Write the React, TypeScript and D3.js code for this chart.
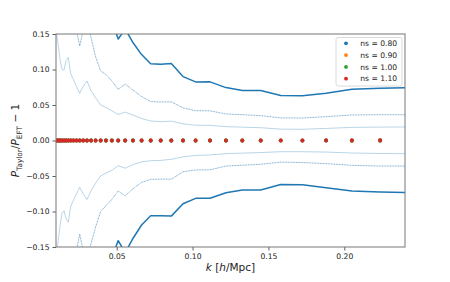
import React, { useEffect, useRef } from 'react';
import * as d3 from 'd3';

// k grid [h/Mpc]
const kGrid = [
  0.0099, 0.0108, 0.0118, 0.0128, 0.014, 0.0153, 0.0166, 0.0181, 0.0197, 0.0215,
  0.0235, 0.0256, 0.0279, 0.0304, 0.0331, 0.0361, 0.0394, 0.0429, 0.0468, 0.051,
  0.0556, 0.0607, 0.0664, 0.0724, 0.079, 0.086, 0.0937, 0.102, 0.1115, 0.122,
  0.1328, 0.1449, 0.1581, 0.1724, 0.188, 0.205, 0.2236, 0.2437,
];

// error bands (upper)
const upperInner = [
  0.16, 0.145, 0.128, 0.112, 0.1, 0.099, 0.112, 0.117, 0.094, 0.086,
  0.076, 0.0665, 0.076, 0.0838, 0.07, 0.06, 0.05, 0.0465, 0.042, 0.0365,
  0.04, 0.036, 0.031, 0.0275, 0.0265, 0.0272, 0.0235, 0.0215, 0.0213, 0.0195,
  0.0188, 0.018, 0.016, 0.0158, 0.017, 0.0185, 0.0189, 0.019,
];
const upperMid = [
  0.3, 0.29, 0.26, 0.23, 0.2, 0.198, 0.22, 0.23, 0.19, 0.172,
  0.155, 0.133, 0.155, 0.167, 0.145, 0.118, 0.098, 0.093, 0.084, 0.072,
  0.0796, 0.071, 0.062, 0.0548, 0.0542, 0.0545, 0.046, 0.042, 0.0418, 0.0373,
  0.0364, 0.035, 0.0318, 0.0317, 0.0336, 0.036, 0.0363, 0.0363,
];
const upperOuter = [
  0.6, 0.58, 0.52, 0.46, 0.4, 0.396, 0.44, 0.46, 0.38, 0.34,
  0.3, 0.266, 0.3, 0.335, 0.29, 0.24, 0.196, 0.186, 0.168, 0.143,
  0.157, 0.138, 0.121, 0.108, 0.1075, 0.1085, 0.09, 0.0825, 0.0826, 0.0745,
  0.0705, 0.0705, 0.0633, 0.063, 0.0665, 0.0722, 0.0735, 0.0745,
];

// error bands (lower)
const lowerInner = [
  -0.17, -0.152, -0.135, -0.118, -0.102, -0.099, -0.11, -0.115, -0.093, -0.084,
  -0.075, -0.066, -0.075, -0.083, -0.071, -0.06, -0.05, -0.046, -0.042, -0.0355,
  -0.039, -0.034, -0.03, -0.0285, -0.028, -0.0265, -0.023, -0.021, -0.0204, -0.0185,
  -0.0178, -0.017, -0.0158, -0.0158, -0.0163, -0.0176, -0.0183, -0.0186,
];
const lowerMid = [
  -0.34, -0.3, -0.27, -0.24, -0.2, -0.198, -0.22, -0.23, -0.186, -0.168,
  -0.155, -0.132, -0.155, -0.166, -0.145, -0.122, -0.1, -0.092, -0.083, -0.071,
  -0.078, -0.068, -0.059, -0.0547, -0.0543, -0.0545, -0.044, -0.0415, -0.0413, -0.036,
  -0.0348, -0.0335, -0.0305, -0.031, -0.0326, -0.035, -0.036, -0.036,
];
const lowerOuter = [
  -0.6, -0.58, -0.52, -0.46, -0.4, -0.396, -0.44, -0.46, -0.38, -0.34,
  -0.3, -0.266, -0.3, -0.335, -0.29, -0.24, -0.196, -0.186, -0.165, -0.141,
  -0.158, -0.138, -0.119, -0.106, -0.106, -0.1065, -0.089, -0.0815, -0.0814, -0.0735,
  -0.0697, -0.0697, -0.062, -0.0622, -0.0665, -0.071, -0.0725, -0.0735,
];

// P_Taylor / P_EFT - 1 per ns
const ns080 = [
  0, 0, 0, 0, 0, 0, 0, 0, 0, 0, 0, 0, 0, 0, 0, 0, 0, 0, 0, 0,
  0, 0, 0, 0, 0, 0, 0, 0, 0, 0, 0, 0, 0.0002, 0.0003, 0.0004, 0.0006, 0.0009, 0.0012,
];
const ns090 = [
  0, 0, 0, 0, 0, 0, 0, 0, 0, 0, 0, 0, 0, 0, 0, 0, 0, 0, 0, 0,
  0, 0, 0, 0, 0, 0, 0, 0, 0, 0, 0, 0, 0.0001, 0.0001, 0.0002, 0.0003, 0.0004, 0.0005,
];
const ns100 = [
  0, 0, 0, 0, 0, 0, 0, 0, 0, 0, 0, 0, 0, 0, 0, 0, 0, 0, 0, 0,
  0, 0, 0, 0, 0, 0, 0, 0, 0, 0, 0, 0, -0.0001, -0.0002, -0.0003, -0.0004, -0.0005, -0.0006,
];
const ns110 = [
  0, 0, 0, 0, 0, 0, 0, 0, 0, 0, 0, 0, 0, 0, 0, 0, 0, 0, 0, 0,
  0, 0, 0, 0, 0, 0, 0, 0, 0, 0, 0, 0, 0, 0, 0, 0, 0, 0,
];

const seriesLabels = ['ns = 0.80', 'ns = 0.90', 'ns = 1.00', 'ns = 1.10'];
const seriesColors = ['#1f77b4', '#ff7f0e', '#2ca02c', '#d62728'];

const xTicks = [0.05, 0.1, 0.15, 0.2];
const yTicks = [-0.15, -0.1, -0.05, 0, 0.05, 0.1, 0.15];

const W = 450;
const H = 282;

const App: React.FC = () => {
  const svgRef = useRef<SVGSVGElement>(null);

  useEffect(() => {
    if (!svgRef.current) return;
    const svg = d3.select(svgRef.current);
    svg.selectAll('*').remove();

    const margin = { top: 34, right: 45, bottom: 35, left: 56 };
    const width = W - margin.left - margin.right;
    const height = H - margin.top - margin.bottom;
    const font = 'DejaVu Sans, sans-serif';

    const x = d3.scaleLinear().domain([0.01, 0.24]).range([0, width]);
    const y = d3.scaleLinear().domain([-0.15, 0.15]).range([height, 0]);

    svg
      .append('defs')
      .append('clipPath')
      .attr('id', 'plot-clip')
      .append('rect')
      .attr('width', width)
      .attr('height', height);

    const g = svg
      .append('g')
      .attr('transform', `translate(${margin.left},${margin.top})`);

    const plot = g.append('g').attr('clip-path', 'url(#plot-clip)');

    const line = d3
      .line<number>()
      .x((_, i) => x(kGrid[i]))
      .y((d) => y(d));

    const bands = [
      { data: upperInner, width: 0.9, opacity: 0.35, dash: null },
      { data: lowerInner, width: 0.9, opacity: 0.35, dash: null },
      { data: upperMid, width: 1, opacity: 0.65, dash: '0.9,0.7' },
      { data: lowerMid, width: 1, opacity: 0.65, dash: '0.9,0.7' },
      { data: upperOuter, width: 1.5, opacity: 1, dash: null },
      { data: lowerOuter, width: 1.5, opacity: 1, dash: null },
    ];

    bands.forEach((b) => {
      plot
        .append('path')
        .datum(b.data)
        .attr('d', line)
        .attr('fill', 'none')
        .attr('stroke', '#1f77b4')
        .attr('stroke-opacity', b.opacity)
        .attr('stroke-width', b.width)
        .attr('stroke-linejoin', 'round')
        .attr('stroke-dasharray', b.dash);
    });

    const series = [ns080, ns090, ns100, ns110];
    series.forEach((s, si) => {
      plot
        .selectAll(`.dot-${si}`)
        .data(s)
        .enter()
        .append('circle')
        .attr('class', `dot-${si}`)
        .attr('cx', (_, i) => x(kGrid[i]))
        .attr('cy', (d) => y(d))
        .attr('r', 1.9)
        .attr('fill', seriesColors[si]);
    });

    // axes
    const xAxis = g
      .append('g')
      .attr('transform', `translate(0,${height})`)
      .call(
        d3
          .axisBottom(x)
          .tickValues(xTicks)
          .tickFormat(d3.format('.2f'))
          .tickSize(3.5)
          .tickPadding(3)
      );
    const yAxis = g.append('g').call(
      d3
        .axisLeft(y)
        .tickValues(yTicks)
        .tickFormat((d) => d3.format('.2f')(d as number).replace('-', '\u2212'))
        .tickSize(3.5)
        .tickPadding(3)
    );
    [xAxis, yAxis].forEach((a) => {
      a.select('.domain').remove();
      a.selectAll('line').attr('stroke', '#333').attr('stroke-width', 0.8);
      a.selectAll('text')
        .attr('font-family', font)
        .attr('font-size', 7.6)
        .attr('fill', '#222');
    });

    // frame
    g.append('rect')
      .attr('width', width)
      .attr('height', height)
      .attr('fill', 'none')
      .attr('stroke', '#777')
      .attr('stroke-width', 1);

    // x label
    const xl = g
      .append('text')
      .attr('x', width / 2)
      .attr('y', height + 24)
      .attr('text-anchor', 'middle')
      .attr('font-family', font)
      .attr('font-size', 10.5)
      .attr('fill', '#222');
    xl.append('tspan').attr('font-style', 'italic').text('k');
    xl.append('tspan').text(' [');
    xl.append('tspan').attr('font-style', 'italic').text('h');
    xl.append('tspan').text('/Mpc]');

    // y label
    const yl = svg
      .append('text')
      .attr('transform', `translate(19,${margin.top + height / 2}) rotate(-90)`)
      .attr('text-anchor', 'middle')
      .attr('font-family', font)
      .attr('font-size', 10.5)
      .attr('fill', '#222');
    yl.append('tspan').attr('font-style', 'italic').text('P');
    yl.append('tspan').attr('font-size', 7.4).attr('dy', 2.6).text('Taylor');
    yl.append('tspan').attr('dy', -2.6).text('/');
    yl.append('tspan').attr('font-style', 'italic').text('P');
    yl.append('tspan').attr('font-size', 7.4).attr('dy', 2.6).text('EFT');
    yl.append('tspan').attr('dy', -2.6).text(' \u2212 1');

    // legend
    const lg = g.append('g').attr('transform', `translate(${width - 69},3.5)`);
    lg.append('rect')
      .attr('width', 66)
      .attr('height', 48.5)
      .attr('rx', 2)
      .attr('fill', 'white')
      .attr('fill-opacity', 0.8)
      .attr('stroke', '#d0d0d0')
      .attr('stroke-width', 0.8);
    seriesLabels.forEach((lab, i) => {
      const yy = 5.8 + i * 11.8;
      lg.append('circle')
        .attr('cx', 10)
        .attr('cy', yy)
        .attr('r', 1.9)
        .attr('fill', seriesColors[i]);
      lg.append('text')
        .attr('x', 24.3)
        .attr('y', yy)
        .attr('dy', '0.35em')
        .attr('font-family', font)
        .attr('font-size', 7.6)
        .attr('fill', '#222')
        .text(lab);
    });
  }, []);

  return (
    <svg
      ref={svgRef}
      width={W}
      height={H}
      style={{ position: 'absolute', left: 0, top: 0, background: 'white' }}
    />
  );
};

export default App;
